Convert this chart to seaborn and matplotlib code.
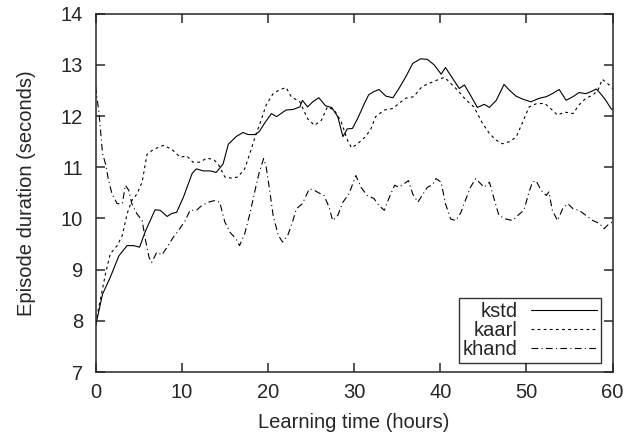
import matplotlib
matplotlib.use('Agg')
import matplotlib.pyplot as plt
import seaborn as sns

# learning curves
kstd_t = [0, 0.8, 1.7, 2.7, 3.65, 4.4, 5.1, 5.8, 6.9, 7.5,
          8.3, 8.85, 9.4, 10.2, 11.2, 11.7, 12.5, 13.3, 14.0, 14.8,
          15.4, 16.3, 17.1, 17.7, 18.5, 19.0, 19.6, 20.4, 21.0, 22.1,
          22.9, 23.7, 24.0, 24.6, 25.2, 25.9, 26.7, 27.4, 28.1, 28.7,
          29.2, 29.8, 30.4, 31.2, 31.7, 32.3, 32.9, 33.7, 34.5, 35.2,
          36.0, 36.8, 37.7, 38.5, 39.3, 40.1, 40.6, 41.5, 42.2, 42.8,
          43.6, 44.3, 45.1, 45.7, 46.5, 47.4, 48.0, 48.8, 49.6, 50.5,
          51.5, 52.3, 53.0, 53.8, 54.6, 55.4, 56.1, 56.9, 57.5, 58.1,
          58.6, 59.2, 59.8, 60]
kstd_y = [7.9, 8.52, 8.85, 9.27, 9.47, 9.47, 9.44, 9.76, 10.17, 10.16,
          10.04, 10.1, 10.12, 10.42, 10.88, 10.97, 10.93, 10.93, 10.9, 11.07,
          11.45, 11.6, 11.68, 11.64, 11.64, 11.7, 11.86, 12.05, 11.99, 12.12,
          12.13, 12.18, 12.31, 12.18, 12.28, 12.36, 12.2, 12.17, 11.99, 11.6,
          11.75, 11.76, 11.95, 12.25, 12.42, 12.48, 12.52, 12.39, 12.36, 12.54,
          12.77, 13.03, 13.12, 13.11, 13.0, 12.82, 12.95, 12.72, 12.54, 12.61,
          12.38, 12.17, 12.23, 12.17, 12.31, 12.62, 12.51, 12.39, 12.33, 12.28,
          12.35, 12.38, 12.44, 12.52, 12.31, 12.38, 12.46, 12.44, 12.48, 12.53,
          12.44, 12.31, 12.15, 12.12]

kaarl_t = [0, 0.6, 1.15, 1.7, 2.5, 3.1, 3.65, 4.2, 4.8, 5.4,
           5.96, 6.7, 7.9, 8.85, 9.8, 10.6, 11.3, 12.1, 12.9, 13.7,
           14.2, 15.0, 15.8, 16.5, 17.3, 17.9, 18.5, 19.0, 19.8, 20.6,
           21.3, 22.1, 22.7, 23.7, 24.6, 25.4, 26.2, 26.9, 27.7, 28.5,
           29.2, 29.7, 30.4, 31.2, 31.9, 32.5, 33.5, 34.5, 35.2, 36.0,
           36.9, 37.9, 38.7, 39.7, 40.5, 41.2, 42.0, 42.9, 43.9, 44.9,
           45.7, 46.5, 47.2, 48.0, 48.8, 49.5, 50.3, 51.1, 52.1, 52.8,
           53.6, 54.4, 55.4, 56.1, 56.9, 57.7, 58.3, 58.8, 59.6, 60]
kaarl_y = [7.95, 8.46, 8.92, 9.31, 9.47, 9.67, 10.09, 10.35, 10.48, 10.71,
           11.25, 11.35, 11.43, 11.35, 11.2, 11.22, 11.1, 11.1, 11.18, 11.15,
           11.07, 10.81, 10.79, 10.81, 10.97, 11.27, 11.59, 11.82, 12.22, 12.44,
           12.51, 12.56, 12.38, 12.28, 11.95, 11.82, 11.92, 12.18, 12.12, 11.89,
           11.54, 11.38, 11.46, 11.58, 11.73, 11.99, 12.12, 12.15, 12.25, 12.35,
           12.38, 12.58, 12.64, 12.71, 12.76, 12.64, 12.51, 12.33, 12.18, 11.86,
           11.66, 11.53, 11.46, 11.5, 11.59, 11.86, 12.18, 12.24, 12.25, 12.15,
           12.02, 12.08, 12.05, 12.22, 12.35, 12.41, 12.51, 12.72, 12.61, 12.54]

khand_t = [0, 0.4, 0.8, 1.15, 1.5, 1.9, 2.5, 3.1, 3.45, 3.85,
           4.2, 4.8, 5.4, 5.8, 6.2, 6.5, 7.1, 7.7, 8.3, 9.0,
           9.6, 10.4, 10.96, 11.7, 12.3, 13.1, 13.8, 14.4, 15.0, 15.6,
           16.3, 16.7, 17.3, 17.9, 18.5, 19.0, 19.5, 19.8, 20.2, 20.6,
           21.2, 21.7, 22.3, 22.9, 23.3, 24.0, 24.8, 25.4, 25.9, 26.5,
           27.1, 27.5, 28.1, 28.7, 29.4, 30.2, 30.8, 31.5, 32.3, 32.9,
           33.5, 34.1, 34.7, 35.2, 35.8, 36.3, 36.8, 37.4, 38.0, 38.5,
           39.1, 39.5, 40.1, 40.6, 41.2, 41.8, 42.4, 42.9, 43.5, 44.1,
           44.5, 45.1, 45.7, 46.3, 46.8, 47.6, 48.4, 49.2, 49.7, 50.3,
           50.7, 51.1, 51.7, 52.3, 52.6, 53.0, 53.6, 54.2, 54.8, 55.4,
           56.1, 56.9, 57.7, 58.5, 59.0, 59.6, 60]
khand_y = [12.58, 12.05, 11.27, 11.07, 10.75, 10.48, 10.29, 10.29, 10.65, 10.55,
           10.29, 10.09, 9.96, 9.57, 9.24, 9.14, 9.34, 9.29, 9.44, 9.63,
           9.76, 9.96, 10.16, 10.16, 10.25, 10.32, 10.35, 10.32, 9.93, 9.73,
           9.6, 9.47, 9.7, 10.09, 10.55, 10.91, 11.17, 11.0, 10.55, 10.06,
           9.67, 9.54, 9.67, 9.96, 10.19, 10.29, 10.58, 10.55, 10.5, 10.45,
           10.22, 9.96, 10.06, 10.32, 10.48, 10.84, 10.61, 10.45, 10.39, 10.25,
           10.16, 10.42, 10.65, 10.61, 10.68, 10.74, 10.48, 10.32, 10.48, 10.61,
           10.66, 10.78, 10.71, 10.29, 9.99, 9.96, 10.12, 10.35, 10.61, 10.78,
           10.71, 10.61, 10.71, 10.35, 10.06, 9.99, 9.96, 10.09, 10.16, 10.52,
           10.71, 10.74, 10.55, 10.45, 10.52, 10.16, 9.96, 10.19, 10.29, 10.19,
           10.16, 10.06, 9.96, 9.9, 9.8, 9.9, 9.93]

sns.set_style('ticks')
plt.rcParams['font.family'] = ['Liberation Sans', 'DejaVu Sans']
fs = 14.5

fig = plt.figure(figsize=(6.29, 4.45), dpi=100)
ax = fig.add_axes([0.152, 0.164, 0.822, 0.805])

sns.lineplot(x=kstd_t, y=kstd_y, ax=ax, color='black', lw=0.8,
             linestyle='-', label='kstd', estimator=None, sort=False)
sns.lineplot(x=kaarl_t, y=kaarl_y, ax=ax, color='black', lw=0.8,
             linestyle=(0, (2.5, 3)), label='kaarl', estimator=None, sort=False)
sns.lineplot(x=khand_t, y=khand_y, ax=ax, color='black', lw=0.8,
             linestyle=(0, (6, 3, 1, 3)), label='khand', estimator=None, sort=False)

ax.set_xlim(0, 60)
ax.set_ylim(7, 14)
ax.set_xticks(range(0, 61, 10))
ax.set_yticks(range(7, 15))
ax.tick_params(direction='in', top=True, right=True, length=6.5, width=1.1,
               labelsize=fs)
ax.tick_params(axis='x', pad=8)
ax.tick_params(axis='y', pad=9)
for s in ax.spines.values():
    s.set_visible(True)
    s.set_linewidth(1.1)
ax.set_xlabel('Learning time (hours)', fontsize=fs, labelpad=8)
ax.set_ylabel('Episode duration (seconds)', fontsize=fs, labelpad=18)

leg = ax.legend(loc='lower right', bbox_to_anchor=(601 / 629, 1 - 363 / 445),
                bbox_transform=fig.transFigure, borderaxespad=0,
                markerfirst=False, frameon=True, fancybox=False,
                edgecolor='black', fontsize=fs, handlelength=3.3, handletextpad=0.65,
                labelspacing=0.0, borderpad=0.2)
leg.get_frame().set_linewidth(1.0)

fig.savefig('out.png', dpi=100)
